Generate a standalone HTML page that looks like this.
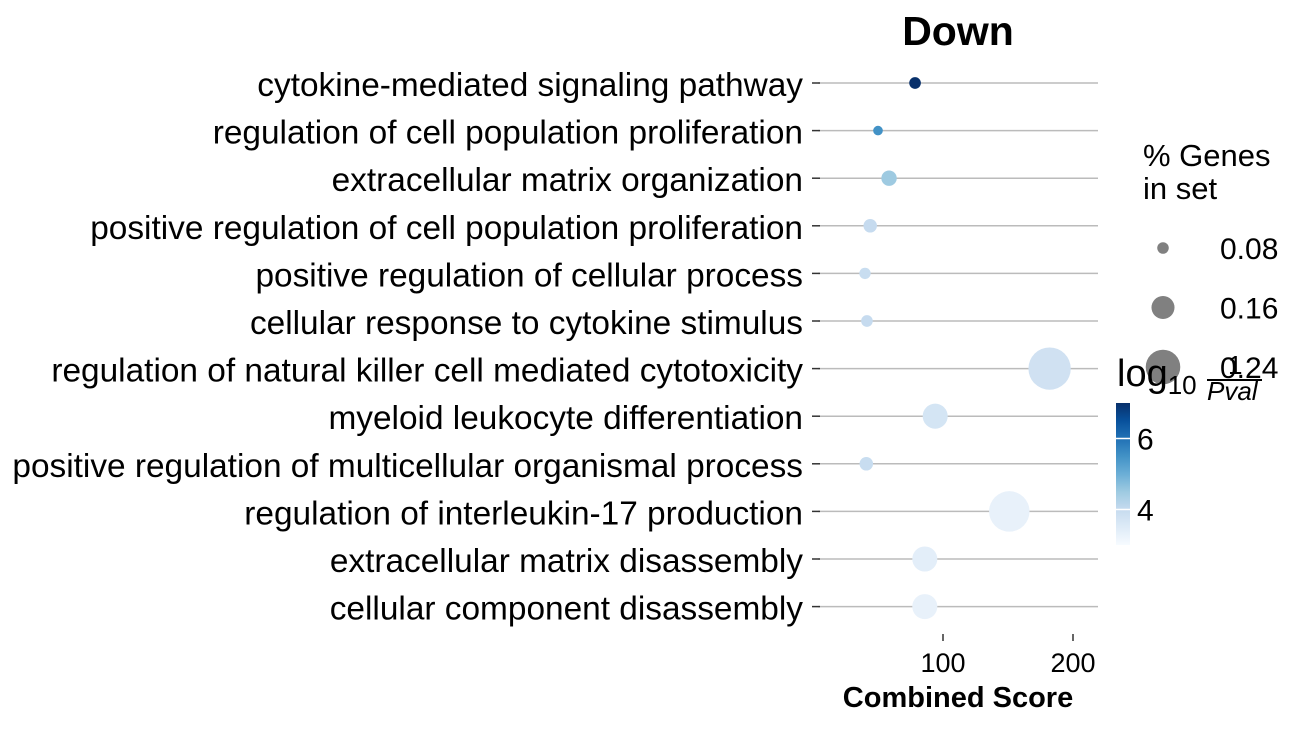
<!DOCTYPE html>
<html><head><meta charset="utf-8"><style>
body{margin:0;background:#fff;}
svg text{font-family:"Liberation Sans",Arial,sans-serif;}
</style></head><body>
<svg id="chart" width="1307" height="728" xmlns="http://www.w3.org/2000/svg">
<defs>
<linearGradient id="blues" x1="0" y1="1" x2="0" y2="0">
<stop offset="0" stop-color="#f7fbff"/><stop offset="0.125" stop-color="#deebf7"/><stop offset="0.25" stop-color="#c6dbef"/><stop offset="0.375" stop-color="#9ecae1"/><stop offset="0.5" stop-color="#6baed6"/><stop offset="0.625" stop-color="#4292c6"/><stop offset="0.75" stop-color="#2171b5"/><stop offset="0.875" stop-color="#08519c"/><stop offset="1" stop-color="#08306b"/>
</linearGradient>
</defs>
<text x="958" y="45" font-size="41" font-weight="bold" text-anchor="middle">Down</text>
<g id="rows"></g>
<g id="xaxis"></g>
<text x="958" y="707" font-size="29" font-weight="bold" text-anchor="middle">Combined Score</text>
<g>
<text x="1143" y="166" font-size="31">% Genes</text>
<text x="1143" y="199" font-size="31">in set</text>
<g id="sizeleg"></g>
</g>
<g>
<rect x="1116" y="403" width="14" height="142" fill="url(#blues)"/>
<g id="cbticks"></g>
<text x="1117" y="386" font-size="38">log<tspan font-size="26" dy="8">10</tspan></text>
<line x1="1207" y1="380" x2="1262" y2="380" stroke="#000" stroke-width="2"/>
<text x="1228" y="374" font-size="26">1</text>
<text x="1207" y="400" font-size="26" font-style="italic">Pval</text>
</g>
</svg>
<script>
const terms=["cytokine-mediated signaling pathway","regulation of cell population proliferation","extracellular matrix organization","positive regulation of cell population proliferation","positive regulation of cellular process","cellular response to cytokine stimulus","regulation of natural killer cell mediated cytotoxicity","myeloid leukocyte differentiation","positive regulation of multicellular organismal process","regulation of interleukin-17 production","extracellular matrix disassembly","cellular component disassembly"];
const scores=[78.5,50,58.5,44,40,41.5,182,94,41,151,86,86];
const geneFrac=[0.067,0.053,0.093,0.08,0.065,0.067,0.28,0.16,0.08,0.267,0.16,0.16];
const logP=[7.0,5.5,4.5,4.0,3.95,4.0,3.8,3.7,3.95,3.3,3.4,3.3];
const xTicks=[100,200];
const sizeLegend=[0.08,0.16,0.24];
const cbTicks=[4,6];
const NS="http://www.w3.org/2000/svg";
const X=v=>943+(v-100)*1.3;
const Y=i=>83+i*47.6;
const R=f=>1+72*f;
const cbY=v=>545-(v-3)*35.5;
const blues=["#f7fbff","#deebf7","#c6dbef","#9ecae1","#6baed6","#4292c6","#2171b5","#08519c","#08306b"];
function col(v){let t=Math.max(0,Math.min(1,(v-3)/4))*8;let i=Math.min(7,Math.floor(t)),f=t-i;
const a=blues[i],b=blues[i+1];const c=k=>Math.round(parseInt(a.substr(k,2),16)*(1-f)+parseInt(b.substr(k,2),16)*f);
return `rgb(${c(1)},${c(3)},${c(5)})`;}
function mk(tag,attrs,parent){const e=document.createElementNS(NS,tag);for(const k in attrs)e.setAttribute(k,attrs[k]);parent.appendChild(e);return e;}
const rows=document.getElementById('rows');
terms.forEach((t,i)=>{
 const y=Y(i);
 const g=mk('g',{},rows);
 
 
 mk('line',{x1:818,x2:1098,y1:y,y2:y,stroke:'#bbb','stroke-width':1.5},g);
 mk('line',{x1:812,x2:820,y1:y,y2:y,stroke:'#333','stroke-width':1.5},g);
 const tx=mk('text',{x:803,y:y+13,'font-size':33.4,'text-anchor':'end'},g);
 tx.textContent=t;
 
 
 const c=mk('circle',{cx:X(scores[i]),cy:y,r:R(geneFrac[i]),fill:col(logP[i])},g);
 
 
});
const xa=document.getElementById('xaxis');
xTicks.forEach(v=>{
 mk('line',{x1:X(v),x2:X(v),y1:634,y2:641,stroke:'#333','stroke-width':1.5},xa);
 const t=mk('text',{x:X(v),y:672,'font-size':27,'text-anchor':'middle'},xa);
 t.textContent=v;
 
 
});
const sl=document.getElementById('sizeleg');
sizeLegend.forEach((v,i)=>{
 const y=248+i*59.5;
 const c=mk('circle',{cx:1163,cy:y,r:R(v)-1,fill:'#808080'},sl);
 
 
 const t=mk('text',{x:1220,y:y+11,'font-size':30},sl);
 t.textContent=v.toFixed(2);
 
 
});
const cb=document.getElementById('cbticks');
cbTicks.forEach(v=>{
 mk('line',{x1:1116,x2:1130,y1:cbY(v),y2:cbY(v),stroke:'#fff','stroke-width':1.5},cb);
 const t=mk('text',{x:1137,y:cbY(v)+11,'font-size':30},cb);
 t.textContent=v;
 
 
});
</script>
</body></html>
